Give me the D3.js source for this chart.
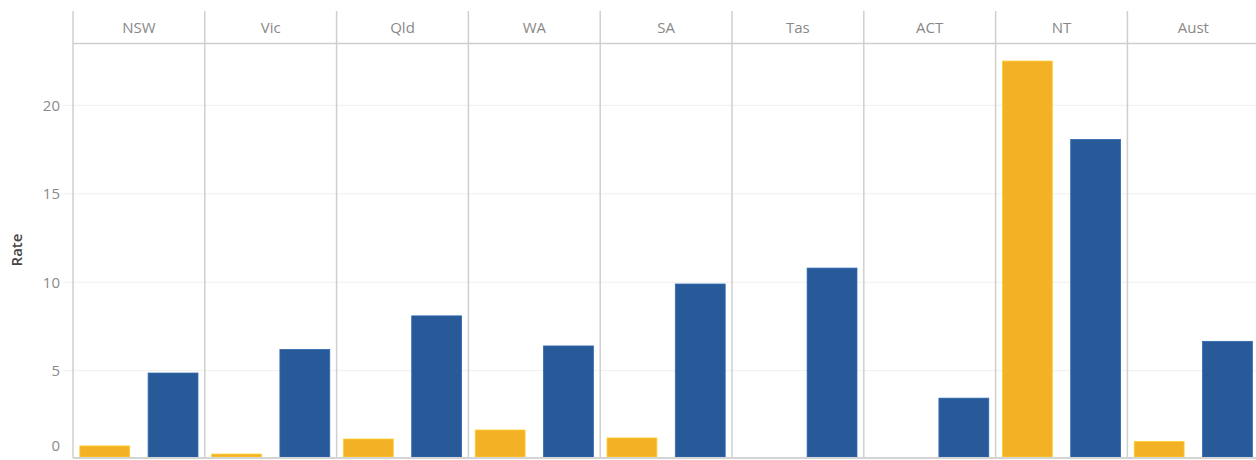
<!DOCTYPE html>
<html><head><meta charset="utf-8">
<script src="https://cdn.jsdelivr.net/npm/d3@7/dist/d3.min.js"></script>
<style>body{margin:0;background:#fff}svg{display:block}</style>
</head><body>
<svg id="c" width="1256" height="460"></svg>
<script>
const regions = ["NSW","Vic","Qld","WA","SA","Tas","ACT","NT","Aust"];
const seriesNames = ["Series A","Series B"];
const seriesA = [0.75, 0.29, 1.14, 1.65, 1.2, null, null, 22.5, 1.0];
const seriesB = [4.87, 6.2, 8.1, 6.4, 9.9, 10.8, 3.45, 18.07, 6.66];
const yTicks = [0,5,10,15,20];
const colors = ["#F3B126","#285A99"];

const svg = d3.select("#c");
const left = 73, right = 1256, headerTop = 11, headerBot = 43, base = 457;
const y = d3.scaleLinear().domain([0,20]).range([459.2,105.3]);
const fx = d3.scaleBand().domain(regions).range([left, left + 131.8*9]).padding(0);
const xs = d3.scaleBand().domain(seriesNames).range([0, fx.bandwidth()]).paddingInner(0.27).paddingOuter(0.1);

// gridlines
svg.append("g").selectAll("line").data(yTicks.filter(d=>d>0)).join("line")
  .attr("x1", 63).attr("x2", right).attr("y1", d=>y(d)).attr("y2", d=>y(d))
  .attr("stroke","#efefef").attr("stroke-width",1);

// y axis
const ax = svg.append("g").attr("transform",`translate(${left-10},0)`)
  .call(d3.axisLeft(y).tickValues(yTicks).tickSize(0).tickPadding(3));
ax.select(".domain").remove();
ax.selectAll("text").attr("font-family","Open Sans, sans-serif").attr("font-size",15).attr("fill","#8a8a8a")
  .attr("dy", d => d===0 ? "-0.55em" : "0.32em");

svg.append("text").attr("transform","translate(22,250) rotate(-90)").attr("text-anchor","middle")
  .attr("font-family","Open Sans, sans-serif").attr("font-size",15).attr("font-weight",600).attr("fill","#444").text("Rate");

// bars
const data = regions.flatMap((r,i)=>[
  {r, s:seriesNames[0], v:seriesA[i], c:colors[0]},
  {r, s:seriesNames[1], v:seriesB[i], c:colors[1]}
]).filter(d=>d.v!=null);
svg.append("g").selectAll("rect").data(data).join("rect")
  .attr("x", d=>fx(d.r)+xs(d.s)).attr("width", xs.bandwidth())
  .attr("y", d=>y(d.v)).attr("height", d=>Math.max(0, base-y(d.v)))
  .attr("fill", d=>d.c).attr("stroke", d=>d3.color(d.c).brighter(0.4)).attr("stroke-width",0.8);

// header line and dividers
svg.append("line").attr("x1",left).attr("x2",right).attr("y1",headerBot+0.5).attr("y2",headerBot+0.5).attr("stroke","#cfcfcf").attr("stroke-width",1.5);
svg.append("g").selectAll("line").data(regions).join("line")
  .attr("x1", d=>fx(d)).attr("x2", d=>fx(d)).attr("y1", headerTop).attr("y2", 458)
  .attr("stroke","#cfcfcf").attr("stroke-width",1.5);
svg.append("line").attr("x1",left).attr("x2",right).attr("y1",458).attr("y2",458).attr("stroke","#d4d4d4").attr("stroke-width",2);

// headers
svg.append("g").selectAll("text").data(regions).join("text")
  .attr("x", d=>fx(d)+fx.bandwidth()/2).attr("y", 33).attr("text-anchor","middle")
  .attr("font-family","Open Sans, sans-serif").attr("font-size",15).attr("fill","#888").text(d=>d);
</script>
</body></html>
